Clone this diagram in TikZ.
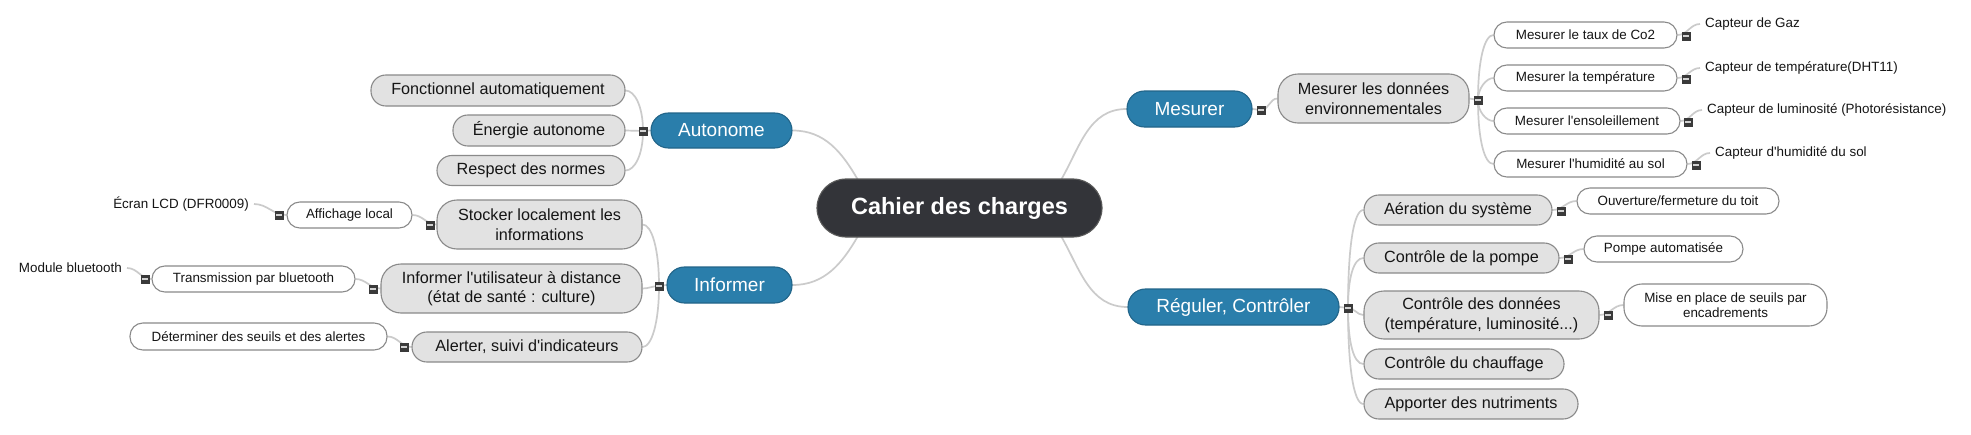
\documentclass[tikz,border=0pt]{standalone}
\usepackage{fontspec}
\setmainfont{Liberation Sans}
\usetikzlibrary{backgrounds}
\definecolor{blueN}{HTML}{2A7EAB}
\definecolor{darkN}{HTML}{333439}
\definecolor{grayF}{HTML}{E2E2E2}
\definecolor{bord}{HTML}{8A8A8A}
\definecolor{conn}{HTML}{CBCBCB}
\definecolor{minusC}{HTML}{3A3A3A}
\definecolor{txt}{HTML}{151515}
\tikzset{
  base/.style={draw=bord, line width=1.1pt, inner sep=0pt, align=center, text=txt},
  wh/.style 2 args={minimum width=#1pt, minimum height=#2pt},
  central/.style={base, fill=darkN, draw=gray!70!black, text=white, font=\fontsize{23.5}{28}\selectfont\bfseries, rounded corners=28.9pt},
  bluebox/.style={base, fill=blueN, draw=blueN!80!black, text=white, font=\fontsize{19}{23}\selectfont, rounded corners=17.4pt},
  graybox/.style={base, fill=grayF, font=\fontsize{16.2}{19.5}\selectfont, rounded corners=14.9pt},
  graytall/.style={base, fill=grayF, font=\fontsize{16.2}{19.5}\selectfont, rounded corners=20pt},
  whitebox/.style={base, fill=white, font=\fontsize{13.4}{15}\selectfont, rounded corners=12.9pt},
  whitetall/.style={base, fill=white, font=\fontsize{13.4}{15}\selectfont, rounded corners=18pt},
  plain/.style={inner xsep=5pt, inner ysep=0pt, text=txt, font=\fontsize{13.4}{15}\selectfont},
  minusbox/.style={fill=minusC, minimum size=9pt, inner sep=0pt,
    path picture={\fill[gray!35] ([xshift=-2.6pt,yshift=-1pt]path picture bounding box.center) rectangle ([xshift=2.6pt,yshift=1pt]path picture bounding box.center);}},
  link/.style={draw=conn, line width=1.7pt},
}
\begin{document}
\begin{tikzpicture}[x=1pt,y=-1pt]
\useasboundingbox (0,0) rectangle (1971,434);

% central and main branches
\node[central, wh={285}{58}] (c) at (959.5,208) {Cahier des charges};
\coordinate (cA) at (858,180);
\coordinate (cB) at (858,236);
\coordinate (cC) at (1061,180);
\coordinate (cD) at (1061,236);
\node[bluebox, wh={141}{35}] (auto) at (721.5,130.5) {Autonome};
\node[bluebox, wh={125}{36}] (inf) at (729.5,285) {Informer};
\node[bluebox, wh={125}{36}] (mes) at (1189.5,109) {Mesurer};
\node[bluebox, wh={211}{36}] (reg) at (1233.5,307) {Réguler, Contrôler};

% left gray
\node[graybox, wh={254}{31}] (fa) at (498,90.5) {Fonctionnel automatiquement};
\node[graybox, wh={172}{31}] (ea) at (539,130.5) {Énergie autonome};
\node[graybox, wh={188}{30}] (rn) at (531,170.5) {Respect des normes};
\node[graytall, wh={205}{49}] (sl) at (539.5,224.5) {Stocker localement les\\informations};
\node[graytall, wh={261}{49}] (iu) at (511.5,288.5) {Informer l\textquotesingle utilisateur à distance\\(état de santé : culture)};
\node[graybox, wh={230}{30}] (al) at (527,347) {Alerter, suivi d\textquotesingle indicateurs};

% left white
\node[whitebox, wh={125}{26}] (af) at (349.5,215) {Affichage local};
\node[whitebox, wh={203}{26}] (tb) at (253.5,279) {Transmission par bluetooth};
\node[whitebox, wh={257}{27}] (ds) at (258.5,336.5) {Déterminer des seuils et des alertes};
\node[plain, anchor=east] (lcd) at (254,204) {Écran LCD (DFR0009)};
\node[plain, anchor=east] (mb) at (127,268) {Module bluetooth};

% right upper
\node[graytall, wh={191}{49}] (md) at (1373.5,98.5) {Mesurer les données\\environnementales};
\node[whitebox, wh={183}{26}] (m1) at (1585.5,35) {Mesurer le taux de Co2};
\node[whitebox, wh={183}{26}] (m2) at (1585.5,78) {Mesurer la température};
\node[whitebox, wh={186}{26}] (m3) at (1587,121) {Mesurer l\textquotesingle ensoleillement};
\node[whitebox, wh={193}{26}] (m4) at (1590.5,164) {Mesurer l\textquotesingle humidité au sol};
\node[plain, anchor=west] (cg) at (1700,24) {Capteur de Gaz};
\node[plain, anchor=west] (ct) at (1700,68) {Capteur de température(DHT11)};
\node[plain, anchor=west] (cl) at (1702,110) {Capteur de luminosité (Photorésistance)};
\node[plain, anchor=west] (ch) at (1710,153) {Capteur d\textquotesingle humidité du sol};

% right lower
\node[graybox, wh={188}{30}] (ae) at (1458,210) {Aération du système};
\node[graybox, wh={195}{30}] (cp) at (1461.5,258) {Contrôle de la pompe};
\node[graytall, wh={235}{48}] (cd) at (1481.5,315) {Contrôle des données\\(température, luminosité...)};
\node[graybox, wh={200}{30}] (cc) at (1464,364) {Contrôle du chauffage};
\node[graybox, wh={214}{30}] (an) at (1471,404) {Apporter des nutriments};
\node[whitebox, wh={202}{26}] (ot) at (1678,201) {Ouverture/fermeture du toit};
\node[whitebox, wh={159}{26}] (pa) at (1663.5,249) {Pompe automatisée};
\node[whitetall, wh={203}{42}] (mp) at (1725.5,305) {Mise en place de seuils par\\encadrements};

% collapse markers
\node[minusbox] (xAuto) at (643,131) {};
\node[minusbox] (xInf) at (659,286) {};
\node[minusbox] (xSl) at (430,225) {};
\node[minusbox] (xIu) at (373,289) {};
\node[minusbox] (xAl) at (404,347) {};
\node[minusbox] (xAf) at (279,215) {};
\node[minusbox] (xTb) at (145,279) {};
\node[minusbox] (xMes) at (1261,110) {};
\node[minusbox] (xMd) at (1478,100) {};
\node[minusbox] (xM1) at (1686,36) {};
\node[minusbox] (xM2) at (1686,79) {};
\node[minusbox] (xM3) at (1688,122) {};
\node[minusbox] (xM4) at (1696,165) {};
\node[minusbox] (xReg) at (1348,308) {};
\node[minusbox] (xAe) at (1561,211) {};
\node[minusbox] (xCp) at (1568,259) {};
\node[minusbox] (xCd) at (1608,315) {};

\begin{pgfonlayer}{background}
\fill[white] (0,0) rectangle (1971,434);
% main branches
\draw[link] (auto.east) to[out=0,in=120] (cA);
\draw[link] (inf.east) to[out=0,in=-120] (cB);
\draw[link] (mes.west) to[out=180,in=60] (cC);
\draw[link] (reg.west) to[out=180,in=-60] (cD);
% Autonome
\draw[link] (auto.west) -- (xAuto.center);
\draw[link] (xAuto.center) to[out=90,in=0,out distance=25pt,in distance=9pt] (fa.east);
\draw[link] (xAuto.center) -- (ea.east);
\draw[link] (xAuto.center) to[out=-90,in=0,out distance=24pt,in distance=9pt] (rn.east);
% Informer
\draw[link] (inf.west) -- (xInf.center);
\draw[link] (xInf.center) to[out=90,in=0,out distance=38pt,in distance=9pt] (sl.east);
\draw[link] (xInf.center) to[out=180,in=0] (iu.east);
\draw[link] (xInf.center) to[out=-90,in=0,out distance=37pt,in distance=9pt] (al.east);
\draw[link] (sl.west) to[out=180,in=0] (af.east);
\draw[link] (iu.west) to[out=180,in=0] (tb.east);
\draw[link] (al.west) to[out=180,in=0] (ds.east);
\draw[link] (af.west) to[out=180,in=0] (lcd.east);
\draw[link] (tb.west) to[out=180,in=0] (mb.east);
% Mesurer
\draw[link] (mes.east) -- (xMes.center);
\draw[link] (xMes.center) to[out=0,in=180] (md.west);
\draw[link] (md.east) -- (xMd.center);
\draw[link] (xMd.center) to[out=90,in=180,out distance=40pt,in distance=9pt] (m1.west);
\draw[link] (xMd.center) to[out=90,in=180,out distance=12pt,in distance=7pt] (m2.west);
\draw[link] (xMd.center) to[out=-90,in=180,out distance=12pt,in distance=7pt] (m3.west);
\draw[link] (xMd.center) to[out=-90,in=180,out distance=40pt,in distance=9pt] (m4.west);
\draw[link] (m1.east) to[out=0,in=180] (cg.west);
\draw[link] (m2.east) to[out=0,in=180] (ct.west);
\draw[link] (m3.east) to[out=0,in=180] (cl.west);
\draw[link] (m4.east) to[out=0,in=180] (ch.west);
% Reguler
\draw[link] (reg.east) -- (xReg.center);
\draw[link] (xReg.center) to[out=90,in=180,out distance=60pt,in distance=10pt] (ae.west);
\draw[link] (xReg.center) to[out=90,in=180,out distance=30pt,in distance=10pt] (cp.west);
\draw[link] (xReg.center) to[out=0,in=180] (cd.west);
\draw[link] (xReg.center) to[out=-90,in=180,out distance=34pt,in distance=10pt] (cc.west);
\draw[link] (xReg.center) to[out=-90,in=180,out distance=58pt,in distance=10pt] (an.west);
\draw[link] (ae.east) to[out=0,in=180] (ot.west);
\draw[link] (cp.east) to[out=0,in=180] (pa.west);
\draw[link] (cd.east) to[out=0,in=180] (mp.west);
\end{pgfonlayer}
\end{tikzpicture}
\end{document}
